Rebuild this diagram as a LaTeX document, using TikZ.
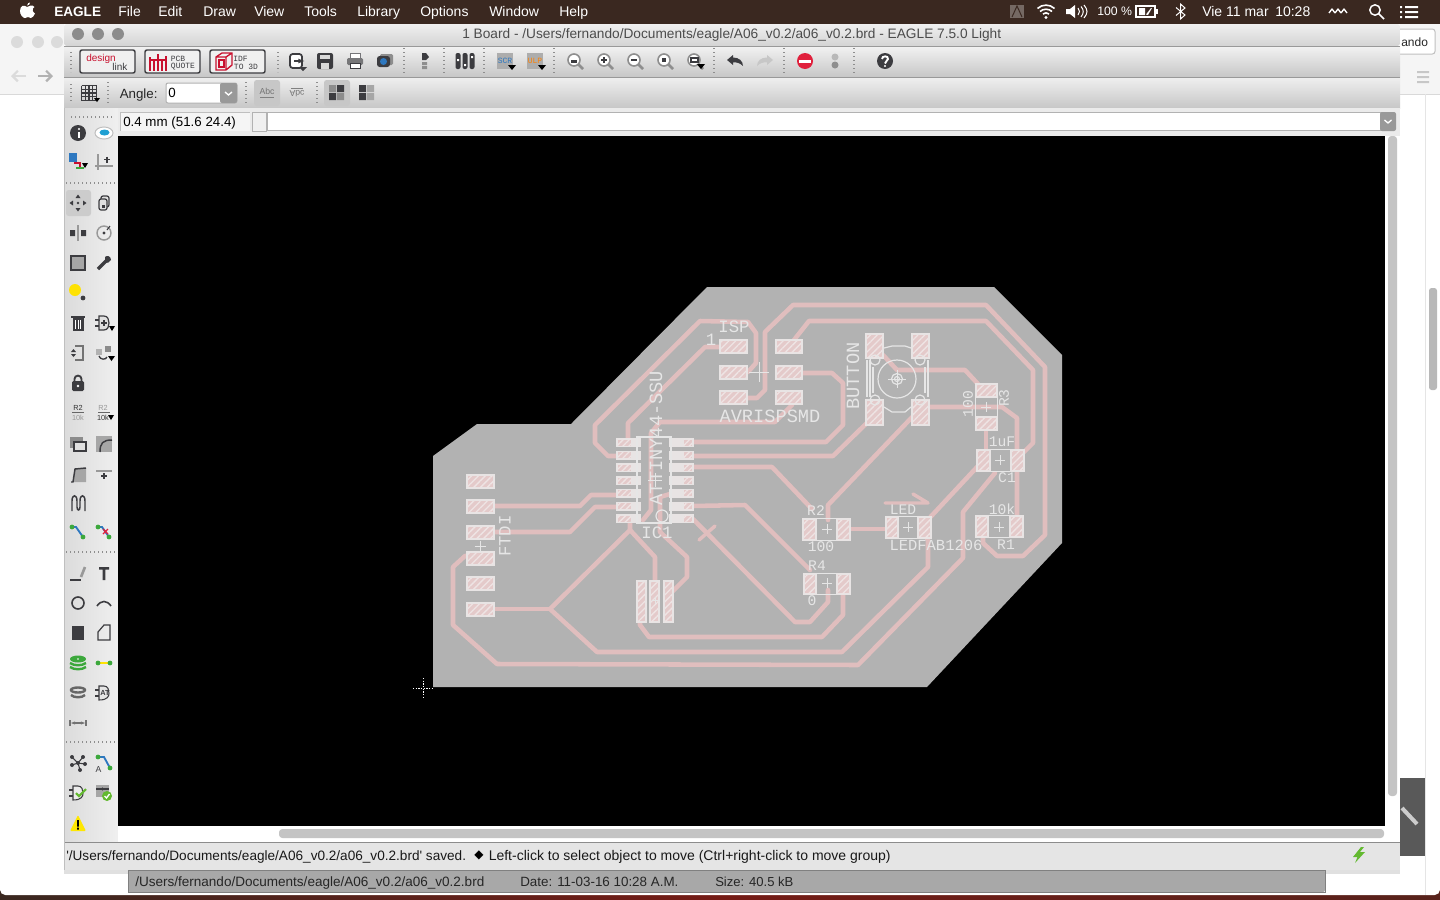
\documentclass[tikz,border=0pt]{standalone}
\usepackage{fontspec}
\usetikzlibrary{patterns.meta,arrows.meta}
\newfontfamily\ui{Liberation Sans}
\newfontfamily\pcbf{Liberation Mono}
\newfontfamily\symf{DejaVu Sans}
\newcommand\szz[1]{\fontsize{#1}{#1}\selectfont}
\definecolor{barc}{HTML}{3A2820}
\definecolor{trace}{HTML}{E0BEBE}
\definecolor{board}{HTML}{B2B2B2}
\definecolor{padc}{HTML}{E8E4E4}
\definecolor{hatcha}{HTML}{E4CACA}
\definecolor{hatchb}{HTML}{EEE4E4}
\definecolor{silk}{HTML}{E6E6E6}
\definecolor{tool}{HTML}{3C3C40}
\definecolor{midg}{HTML}{8E8E8E}
\definecolor{lineg}{HTML}{A4A4A4}
\definecolor{stopr}{HTML}{E0203C}
\definecolor{grn}{HTML}{3CA83C}
\definecolor{bluei}{HTML}{2E78C0}
\definecolor{cadm}{HTML}{C8102E}
\tikzset{
  trk/.style={draw=trace,line width=3.4pt,line join=round,line cap=round},
  sk/.style={draw=silk,line width=.9pt},
  mk/.style={draw=silk,line width=.7pt},
  lb/.style={text=silk,inner sep=0pt,font=\pcbf\szz{#1}},
  ut/.style={inner sep=0pt,anchor=base west,font=\ui\szz{#1}},
  ics/.style={fill=tool,draw=none},
  dots/.style={draw=midg,line width=.9pt,dash pattern=on .9pt off 2.1pt},
  tb/.style={draw=tool,line width=1.1pt,rounded corners=1.5pt,fill=gray!12},
  ol/.style={draw=tool,line width=1.3pt},
}
\newcommand\padbox[4]{%
  \fill[padc] (#1,#2) rectangle (#3,#4);
  \fill[hatcha] (#1+2,#2+2) rectangle (#3-2,#4-2);
  \fill[pattern={Lines[angle=45,distance=3.6pt,line width=1pt]},pattern color=hatchb] (#1+2,#2+2) rectangle (#3-2,#4-2);}
\newcommand\icpad[5]{% x1 y x2 hx1 hx2
  \fill[padc] (#1,#2-4.5) rectangle (#3,#2+4.5);
  \fill[hatcha] (#4,#2-3) rectangle (#5,#2+3);
  \fill[pattern={Lines[angle=45,distance=3.2pt,line width=1pt]},pattern color=hatchb] (#4,#2-3) rectangle (#5,#2+3);}
\newcommand\ic[3]{\begin{scope}[shift={(#1,#2)}]#3\end{scope}}
\newcommand\plus[3]{\draw[mk] (#1-#3,#2) -- (#1+#3,#2) (#1,#2-#3) -- (#1,#2+#3);}
\begin{document}
\begin{tikzpicture}[x=0.75pt,y=-0.75pt]
\useasboundingbox (0,0) rectangle (1440,900);
\clip (0,0) rectangle (1440,900);
% desktop
\fill[barc] (0,0) rectangle (1440,900);
\fill[left color=barc,right color=barc!85!red,middle color=red!30!barc] (0,890) rectangle (1440,900);
% background browser window
\fill[white,rounded corners=4pt] (0,24) rectangle (1440,895);
\fill[white!96!black] (0,24) rectangle (64,94);
\draw[black!15,line width=.75pt] (0,94) -- (64,94);
\foreach \xx/\nm in {17/a,38/b,57/c}{\fill[black!14] (\xx,42) circle (6);}
\draw[black!14,line width=1.6pt,-{Straight Barb[length=4pt]}] (26,76) -- (11,76);
\draw[black!30,line width=1.6pt,-{Straight Barb[length=4pt]}] (38,76) -- (53,76);
\fill[white!96!black] (1400,24) rectangle (1440,94);
\draw[black!15,line width=.75pt] (1400,94) -- (1440,94);
\draw[black!25,fill=white,rounded corners=2pt,line width=.75pt] (1396,29) rectangle (1435,54);
\node[ut=9,text=black!85] (andotxt) at (1401,46) {ando};
\fill[black!22] (1417,71) rectangle (1429,73) (1417,76) rectangle (1429,78) (1417,81) rectangle (1429,83);
\draw[black!10,line width=.75pt] (1425,94) -- (1425,895);
\fill[black!28,rounded corners=2pt] (1429,288) rectangle (1437,390);
\fill[black!65] (1400,778) rectangle (1425,856);
\draw[white!80!black,line width=3pt] (1402,808) -- (1417,824);
% shadow + main window
\fill[black!12] (64,870) rectangle (1400,874);
\shade[top color=black!6,bottom color=black!17,rounded corners=2pt] (64,24) rectangle (1400,46);
\shade[top color=black!5,bottom color=black!22] (64,46) rectangle (1400,77);
\shade[top color=black!6,bottom color=black!22] (64,77) rectangle (1400,108);
\draw[black!40,line width=.75pt] (64,46) -- (1400,46) (64,77) -- (1400,77) (64,108) -- (1400,108);
\fill[black!8] (64,108) rectangle (1400,136);
\shade[left color=black!14,right color=black!6] (64,108) rectangle (118,842);
\fill[black!10] (64,842) rectangle (1400,870);
\draw[black!45,line width=.75pt] (64,842) -- (1400,842);
\draw[black!25,line width=.75pt] (64,108) -- (64,870);
\foreach \xx in {78,98,118}{\fill[black!45] (\xx,34) circle (6);}
\node[ut=10.27,text=black!70] (titletxt) at (462,38.6) {1 Board - /Users/fernando/Documents/eagle/A06\_v0.2/a06\_v0.2.brd - EAGLE 7.5.0 Light};
% menu bar
\fill[barc] (0,0) rectangle (1440,22);
\begin{scope}[white]
\fill (27,7) .. controls (24,4.5) and (20,5.5) .. (20,11) .. controls (20,15) and (23,18) .. (25,18) .. controls (26,18) and (27,17) .. (28,17) .. controls (29,17) and (30,18) .. (31,18) .. controls (33,18) and (34,15) .. (35,13.5) .. controls (32,12) and (32,8) .. (34.5,7) .. controls (32.5,4.5) and (29,5.5) .. (27,7);
\fill (27,5.5) .. controls (27,3.5) and (29,2.5) .. (30,2.5) .. controls (30.5,4) and (28.5,5.5) .. (27,5.5);
\end{scope}
\node[ut=10.5,text=white,font=\ui\bfseries\szz{10.2}] (m0) at (54,16) {EAGLE};
\foreach \xx/\lab/\nn in {118/File/m1,158/Edit/m2,203/Draw/m3,254/View/m4,304/Tools/m5,357/Library/m6,420/Options/m7,489/Window/m8,559/Help/m9}{
  \node[ut=10.5,text=white] (\nn) at (\xx,16) {\lab};}
\fill[white!30!barc] (1010,5) rectangle (1024,18);
\draw[barc,line width=.75pt] (1012,17) -- (1017,6) -- (1022,17);
\begin{scope}[white,line width=1.2pt]
\draw (1037.5,8.5) .. controls (1042,4) and (1050,4) .. (1054.5,8.5);
\draw (1040,11.5) .. controls (1043,8.5) and (1049,8.5) .. (1052,11.5);
\draw (1043,14) .. controls (1045,12.5) and (1047,12.5) .. (1049,14);
\fill (1046,17.5) circle (1.6);
\fill (1066,9) rectangle (1070,14) (1070,9) -- (1075,5) -- (1075,18) -- (1070,14) -- cycle;
\draw[line width=.75pt] (1078,8) .. controls (1080,10) and (1080,13) .. (1078,15) (1081,6.5) .. controls (1084,10) and (1084,13) .. (1081,17) (1084,5) .. controls (1088,10) and (1088,13) .. (1084,18);
\end{scope}
\node[ut=9.2,text=white] (batt) at (1097,15.5) {100 \%};
\draw[white,line width=.9pt] (1136,6) rectangle (1155,17);
\fill[white] (1156,9) rectangle (1158,14);
\fill[white] (1139,8) rectangle (1145,15) (1146,14.5) -- (1151,8) -- (1152,8) -- (1148,15) -- cycle;
\draw[white,line width=.75pt] (1176,7.5) -- (1185,15) -- (1180.5,19) -- (1180.5,4) -- (1185,8) -- (1176,15.5);
\node[ut=10.5,text=white] (clk1) at (1202,16) {Vie 11 mar};
\node[ut=10.5,text=white] (clk2) at (1275,16) {10:28};
\draw[white,line width=1pt,line join=round] (1329,13) -- (1332,9) -- (1335,13) (1335,13) -- (1338,9) -- (1341,13) (1341,13) -- (1344,9) -- (1347,13);
\draw[white,line width=1.1pt] (1375,10) circle (5.2) (1379,14) -- (1384,19);
\fill[white] (1400,6) rectangle (1402,8) (1400,11) rectangle (1402,13) (1400,16) rectangle (1402,18) (1405,6) rectangle (1418,8) (1405,11) rectangle (1418,13) (1405,16) rectangle (1418,18);
% toolbar 1
\foreach \xx in {71,278}{\draw[dots] (\xx,52) -- (\xx,72);}
\draw[dots] (71,84) -- (71,102) (278,52) -- (278,72);
\foreach \xx in {404,444,484,554,714,784,854}{\draw[dots] (\xx,48) -- (\xx,74);}
\draw[tb] (80,50) rectangle (135,73);
\node[inner sep=0pt,text=cadm,font=\ui\szz{7.5}] (dl1) at (101,59) {design};
\node[inner sep=0pt,text=tool,font=\ui\szz{7.5}] (dl2) at (120,67) {link};
\draw[tb] (145,50) rectangle (200,73);
\begin{scope}[cadm,line width=1pt]
\draw (150,57) -- (150,71) (154,61) -- (154,71) (158,54) -- (158,71) (162,60) -- (162,71) (166,56) -- (166,71);
\draw (150,60) -- (158,60) (158,60) -- (166,60);
\end{scope}
\node[inner sep=0pt,text=tool,font=\pcbf\szz{6}] (pq1) at (178,59) {PCB};
\node[inner sep=0pt,text=tool,font=\pcbf\szz{6}] (pq2) at (183,66.5) {QUOTE};
\draw[tb] (210,50) rectangle (265,73);
\draw[cadm,line width=1pt] (216,57) -- (222,53) -- (232,53) -- (232,65) -- (226,70) -- (216,70) -- cycle (216,57) -- (226,57) -- (226,70) (226,57) -- (232,53);
\draw[cadm,line width=.8pt] (219,60) rectangle (224,67);
\node[inner sep=0pt,text=tool,font=\pcbf\szz{6}] (id1) at (240.5,59) {IDF};
\node[inner sep=0pt,text=tool,font=\pcbf\szz{6}] (id2) at (246,66.5) {TO 3D};
% toolbar icons
\ic{297}{61}{\draw[ol,fill=white,rounded corners=2pt] (-7,-7) rectangle (5,7);\draw[tool,line width=1.5pt,-{Latex[length=5pt]}] (-3,0) -- (8,0);\fill[tool] (2,6) -- (10,6) -- (6,10) -- cycle;}
\ic{325}{61}{\fill[tool,rounded corners=1.5pt] (-8,-8) rectangle (8,8);\fill[white!85!black] (-5,-6) rectangle (5,-2);\fill[white!85!black] (-4,2) rectangle (4,8);}
\ic{355}{61}{\fill[tool!70,rounded corners=1pt] (-8,-3) rectangle (8,4);\fill[white,draw=tool!70,line width=.75pt] (-5,-8) rectangle (5,-3);\fill[white,draw=tool,line width=.75pt] (-5,2) rectangle (5,7);}
\ic{385}{61}{\fill[midg,rounded corners=1pt] (-5,-7) rectangle (8,4);\fill[tool,rounded corners=2pt] (-8,-5) rectangle (5,6);\fill[bluei] (-1.5,.5) circle (3.5);}
\ic{425}{61}{\fill[tool] (-3,-8) -- (1,-8) -- (4,-4) -- (1,-1) -- (-3,-1) -- cycle;\fill[midg] (-3,1) rectangle (2,4) (-3,5) rectangle (2,8);}
\ic{465}{61}{\foreach \dx in {-7,0,7}{\fill[tool,rounded corners=1.5pt] (\dx-2.5,-8) rectangle (\dx+2.5,8);}\fill[white] (-8,-2) rectangle (-6,0) (-1,3) rectangle (1,5) (6,-5) rectangle (8,-3);}
\ic{505}{61}{\fill[black!32] (-8,-8) rectangle (8,8);\node[inner sep=0pt,text=bluei,font=\pcbf\szz{6}] (scr) at (0,0) {SCR};\fill[black] (3,4) -- (11,4) -- (7,9) -- cycle;}
\ic{535}{61}{\fill[black!32] (-8,-8) rectangle (8,8);\node[inner sep=0pt,text=orange,font=\pcbf\szz{6}] (ulp) at (0,0) {ULP};\fill[black] (3,4) -- (11,4) -- (7,9) -- cycle;}
\foreach \xx/\kk in {575/0,605/1,635/2,665/3,695/4}{
  \ic{\xx}{61}{\draw[midg,line width=2pt] (3,3) -- (8,8);\draw[midg,fill=white,line width=1.2pt] (-1,-1) circle (6);}}
\fill[tool] (571,-1+61) rectangle (577,2+61);
\draw[tool,line width=1pt] (601,60) -- (607,60) (604,57) -- (604,63);
\draw[tool,line width=1pt] (631,60) -- (637,60);
\fill[tool] (662,58) rectangle (666,62);
\draw[tool,line width=.8pt] (691,58) rectangle (698,62);
\fill[black] (697,64) -- (705,64) -- (701,69) -- cycle;
\ic{735}{61}{\fill[tool] (-8,-1) -- (-2,-6) -- (-2,-3.5) .. controls (4,-3.5) and (8,0) .. (8,5) .. controls (5,2) and (2,1) .. (-2,1.5) -- (-2,4) -- cycle;}
\ic{765}{61}{\fill[black!22] (8,-1) -- (2,-6) -- (2,-3.5) .. controls (-4,-3.5) and (-8,0) .. (-8,5) .. controls (-5,2) and (-2,1) .. (2,1.5) -- (2,4) -- cycle;}
\fill[stopr] (805,61) circle (8);
\fill[white] (799,60) rectangle (811,62.5);
\fill[black!28] (835,57) circle (3.5);
\fill[midg] (835,65) circle (3.5);
\fill[tool] (885,61) circle (8);
\draw[white,line width=1.4pt] (882,59) .. controls (882,55.5) and (888.5,55.5) .. (888,59) .. controls (888,61) and (885,61) .. (885,63.5);
\fill[white] (885,66) circle (1.1);
% toolbar 2
\draw[dots] (108,82) -- (108,104) (246,82) -- (246,104) (317,82) -- (317,104);
\ic{89}{93}{\foreach \gg in {-7.5,-3.75,0,3.75,7.5}{\draw[tool,line width=.85pt] (\gg,-7.5) -- (\gg,7.5) (-7.5,\gg) -- (7.5,\gg);}\fill[black] (5,5) -- (11,5) -- (8,9) -- cycle;}
\node[ut=10,text=black!85] (angl) at (119.5,98) {Angle:};
\draw[black!30,fill=white,rounded corners=1.5pt,line width=.75pt] (166,83) rectangle (237,103);
\fill[black!40,rounded corners=1.5pt] (220,83) rectangle (237,103);
\draw[white,line width=1pt] (225,92) -- (228.5,95) -- (232,92);
\node[ut=10,text=black] (angv) at (168,97.5) {0};
\fill[black!22,rounded corners=2pt] (254,80) rectangle (280,106);
\node[inner sep=0pt,text=black!55,font=\ui\szz{6.5}] (abc1) at (267,91) {Abc};
\draw[black!50,line width=.75pt] (260,97) -- (274,97);
\draw[black!50,line width=.75pt] (291,88) -- (303,88);
\node[inner sep=0pt,text=black!55,rotate=180,xscale=-1,font=\ui\szz{6.5}] (abc2) at (297,94) {Abc};
\fill[black!22,rounded corners=2pt] (324,80) rectangle (350,106);
\fill[black!45] (329,85) rectangle (336,92) (337,93) rectangle (344,100);
\fill[tool] (337,85) rectangle (344,92) (329,93) rectangle (336,100);
\fill[tool] (359,85) rectangle (366,92) (359,93) rectangle (366,100);
\fill[black!35] (367,85) rectangle (374,92) (367,93) rectangle (374,100);
% command row
\fill[black!4] (120,112) rectangle (250,131);
\draw[black!25,line width=.75pt] (120,112) -- (120,131) (120,112) -- (250,112);
\node[ut=10,text=black] (coord) at (123,126) {0.4 mm (51.6 24.4)};
\fill[black!6,draw=black!30,line width=.75pt] (252,112) rectangle (266,131);
\fill[white,draw=black!30,line width=.75pt] (267,112) rectangle (1382,130);
\fill[black!40,rounded corners=1.5pt] (1380,112) rectangle (1396,131);
\draw[white,line width=1pt] (1384.5,120) -- (1388,123) -- (1391.5,120);
% canvas
\fill[black] (118,136) rectangle (1385,826);
\fill[white] (118,826) rectangle (1400,842);
\fill[white] (1385,136) rectangle (1400,842);
\fill[black!23,rounded corners=2.5pt] (279,829) rectangle (1384,838);
\fill[black!23,rounded corners=2.5pt] (1388,136) rectangle (1397,796);
% status bar
\node[ut=10.2,text=black!90] (st1) at (66,860) {'/Users/fernando/Documents/eagle/A06\_v0.2/a06\_v0.2.brd' saved.};
\node[inner sep=0pt,text=black,font=\symf\szz{9}] (st2) at (479,855) {◆};
\node[ut=10.5,text=black!90] (st3) at (488.5,860) {Left-click to select object to move (Ctrl+right-click to move group)};
\fill[grn!80!yellow] (1361,847) -- (1353,857) -- (1357.5,857) -- (1355,863) -- (1365,852) -- (1360,852) -- (1364,847) -- cycle;
% lower strip
\fill[black!34,rounded corners=1.5pt] (128,870) rectangle (1325,892);
\draw[black!50,line width=.75pt] (128,870) rectangle (1325,892);
\node[ut=10.15,text=black!85] (b1) at (135,886) {/Users/fernando/Documents/eagle/A06\_v0.2/a06\_v0.2.brd};
\node[ut=10.05,text=black!85] (b2) at (520,886) {Date: 11-03-16 10:28 A.M.};
\node[ut=9.8,text=black!85] (b3) at (715,886) {Size: 40.5 kB};
% left toolbar
\draw[dots] (71,117) -- (112,117) (66,183) -- (117,183) (66,552) -- (117,552) (66,742) -- (117,742);
\ic{78}{133}{\fill[tool] (0,0) circle (8);\draw[white,line width=1.4pt] (1,-1) -- (1,5);\fill[white] (1,-4) circle (1.1);}
\ic{104}{133}{\fill[white,draw=black!25,line width=.75pt] (0,0) ellipse (9 and 6);\fill[bluei!70!cyan] (.5,-.5) ellipse (5 and 3);}
\ic{78}{162}{\fill[bluei] (-9,-9) rectangle (-1,0);\draw[cadm,line width=1.3pt] (-4,1) -- (2,1) -- (2,6);\draw[grn,line width=1.5pt] (-2,6) -- (6,6);\fill[black] (4,1) -- (10,1) -- (7,6) -- cycle;}
\ic{104}{162}{\draw[black!40,line width=1.2pt] (-6,-8) -- (-6,8) (-9,4) -- (9,4);\draw[tool,line width=1pt] (0,-2.5) -- (6,-2.5) (3,-5.5) -- (3,.5);}
\fill[black!20,rounded corners=2pt] (66,190) rectangle (91,216);
\ic{78}{203}{\fill[tool] (-2.5,-5) -- (2.5,-5) -- (0,-8.5) -- cycle (-2.5,5) -- (2.5,5) -- (0,8.5) -- cycle (-5,-2.5) -- (-5,2.5) -- (-8.5,0) -- cycle (5,-2.5) -- (5,2.5) -- (8.5,0) -- cycle;\fill[tool] (0,0) circle (1.3);}
\ic{104}{203}{\draw[draw=tool,line width=.9pt,fill=black!12,rounded corners=1.5pt] (-3,-7) rectangle (5,4);\draw[draw=tool,line width=.9pt,fill=black!12,rounded corners=1.5pt] (-5,-4) rectangle (3,7);\fill[tool] (-2.5,2) rectangle (.5,5);}
\ic{78}{233}{\draw[black!40,line width=1.2pt] (0,-8) -- (0,8);\fill[tool] (-8,-3) -- (-3,-3) -- (-3,3) -- (-8,3) -- cycle (8,-3) -- (3,-3) -- (3,3) -- (8,3) -- cycle;}
\ic{104}{233}{\draw[black!40,line width=1.1pt] (0,0) circle (7);\fill[tool] (0,0) circle (1.7);\draw[tool,line width=.8pt] (3,-3) -- (6,-7);}
\draw[tool,line width=1.5pt,fill=black!35] (71,256) rectangle (85,270);
\ic{104}{263}{\draw[tool,line width=2.6pt] (-6,6) -- (2,-2);\fill[tool] (1,-6) .. controls (3,-8) and (7,-7) .. (7,-3) .. controls (6,-1) and (3,1) .. (1,-1) -- cycle;}
\fill[yellow!85!orange] (75,290) circle (6);
\fill[tool] (83,298) circle (2.4);
\ic{78}{323}{\fill[tool] (-5.5,-5) rectangle (5.5,8);\fill[tool] (-7,-7) rectangle (7,-5);\draw[white,line width=.7pt] (-2.5,-3) -- (-2.5,6) (0,-3) -- (0,6) (2.5,-3) -- (2.5,6);}
\ic{104}{323}{\draw[tool,line width=.9pt,fill=black!12] (-5,-7) -- (0,-7) .. controls (4,-7) and (5,-3) .. (5,0) .. controls (5,3) and (4,7) .. (0,7) -- (-5,7) -- cycle;\draw[tool,line width=.9pt] (-9,-3) -- (-5,-3) (-9,3) -- (-5,3) (-3,0) -- (3,0) (0,-3) -- (0,3);\fill[black] (5,3) -- (11,3) -- (8,8) -- cycle;}
\ic{78}{353}{\draw[black!55,line width=1.3pt] (-3,-7) -- (5,-7) -- (5,7) -- (-3,7);\fill[tool] (-7,-1) -- (-2,-1) -- (-4.5,-4) -- cycle (-7,1) -- (-2,1) -- (-4.5,4) -- cycle;}
\ic{104}{353}{\fill[black!30] (-8,-4) rectangle (-2,2);\fill[black!45] (1,-7) rectangle (7,-1);\draw[tool,line width=1pt] (-5,3) .. controls (-4,7) and (2,7) .. (3,4);\fill[black] (4,3) -- (11,3) -- (7.5,8) -- cycle;}
\ic{78}{383}{\fill[tool,rounded corners=1pt] (-6,-2) rectangle (6,8);\draw[tool,line width=1.4pt] (-3.5,-2) -- (-3.5,-4) .. controls (-3.5,-8.5) and (3.5,-8.5) .. (3.5,-4) -- (3.5,-2);\fill[white] (0,3) circle (1.4);}
\node[inner sep=0pt,text=black!80,font=\ui\szz{5.5}] (r2a) at (78,407.5) {R2};
\draw[black!60,line width=.7pt] (72,412) -- (84,412);
\node[inner sep=0pt,text=black!40,font=\ui\szz{5.5}] (k10a) at (78,417.5) {10k};
\node[inner sep=0pt,text=black!40,font=\ui\szz{5.5}] (r2b) at (103,407.5) {R2};
\draw[black!60,line width=.7pt] (98,412) -- (110,412);
\node[inner sep=0pt,text=black!80,font=\ui\szz{5.5}] (k10b) at (103,417.5) {10k};
\fill[black] (108,415) -- (114,415) -- (111,420) -- cycle;
\ic{78}{444}{\fill[black!45] (-8,-7) rectangle (5,4);\fill[black!12,draw=tool,line width=.9pt] (-4,-2) rectangle (8,7);}
\ic{104}{444}{\fill[black!35] (-8,-8) rectangle (8,8);\draw[tool,line width=1.1pt] (-4,8) .. controls (-4,-1) and (-1,-4) .. (8,-4);}
\ic{78}{474}{\fill[black!35] (-5,8) -- (-3,-5) -- (8,-6) -- (8,8) -- cycle;\draw[tool,line width=1.1pt] (-7,8) -- (-5,8) -- (-3,-5) -- (8,-6);}
\ic{104}{474}{\draw[black!40,line width=.9pt] (-8,-3) -- (8,-3);\draw[tool,line width=1pt] (-3,2) -- (3,2) (0,-1) -- (0,5);}
\draw[tool,line width=1.1pt] (72,511) -- (72,501) .. controls (72,494) and (77,494) .. (77,501) -- (77,507) .. controls (77,511) and (80,511) .. (80,507) -- (80,501) .. controls (80,494) and (85,494) .. (85,501) -- (85,511);
\draw[bluei,line width=1.4pt] (72,527) -- (76,527) -- (83,537);
\fill[grn] (72,527) circle (2.4) (83,537) circle (2.4);
\draw[bluei,line width=1.4pt] (98,527) -- (102,527) -- (109,537);
\fill[grn] (98,527) circle (2.4) (109,537) circle (2.4);
\draw[stopr,line width=1pt] (103,529) -- (108,534) (108,529) -- (103,534);
\draw[tool,line width=1pt] (70,580) -- (81,580);
\draw[black!40,line width=2pt] (81,577) -- (85,567);
\fill[tool] (99,567) rectangle (109,569.5) (102.7,567) rectangle (105.3,580);
\draw[tool,line width=1.2pt] (78,603) circle (6);
\draw[tool,line width=1.2pt] (97,606) .. controls (101,600) and (107,600) .. (111,606);
\fill[tool] (72,626) rectangle (84,640);
\draw[tool,line width=.9pt] (98,640) -- (98,632) -- (104,625) -- (110,625) -- (110,640) -- cycle;
\ic{78}{663}{\fill[grn] (0,-4) ellipse (8 and 3.5);\fill[white] (0,-4) circle (.8);\draw[grn,line width=1.8pt] (-8,0) .. controls (-4,3) and (4,3) .. (8,0);\draw[grn,line width=1.8pt] (-8,4) .. controls (-4,7) and (4,7) .. (8,4);}
\draw[yellow!85!orange,line width=1.5pt] (98,663) -- (110,663);
\fill[grn] (98,663) circle (2.4) (110,663) circle (2.4);
\ic{78}{693}{\draw[black!60,line width=1.8pt] (0,-3) ellipse (7 and 2.5);\draw[black!60,line width=1.8pt] (-7,2) .. controls (-4,5) and (4,5) .. (7,2);}
\ic{104}{693}{\draw[tool,line width=.8pt,fill=black!10] (-5,-7) -- (0,-7) .. controls (4,-7) and (5,-3) .. (5,0) .. controls (5,3) and (4,7) .. (-5,7) -- cycle;\draw[tool,line width=.8pt] (-9,-3) -- (-5,-3) (-9,3) -- (-5,3);\node[inner sep=0pt,text=tool,font=\ui\bfseries\szz{5.5}] (att) at (1,0) {AT};}
\draw[black!55,line width=.9pt,{Stealth[length=3pt]}-{Stealth[length=3pt]}] (71,723) -- (85,723);
\draw[black!55,line width=.8pt] (70,720) -- (70,726) (86,720) -- (86,726);
\ic{78}{763}{\draw[tool,line width=.8pt] (0,0) -- (-6,-6) (0,0) -- (5,-6) (0,0) -- (-6,2) (0,0) -- (7,1) (0,0) -- (2,7);\fill[tool] (0,0) circle (2) (-6,-6) circle (2) (5,-6) circle (2) (-6,2) circle (2) (7,1) circle (2) (2,7) circle (2);}
\draw[bluei,line width=1.4pt] (98,757) -- (104,757) -- (110,768);
\fill[grn] (98,757) circle (2.4) (110,768) circle (2.4);
\node[inner sep=0pt,text=tool,font=\ui\szz{6.5}] (aa) at (98.5,770) {A};
\ic{78}{793}{\draw[tool,line width=.8pt,fill=black!8] (-5,-7) -- (0,-7) .. controls (4,-7) and (5,-3) .. (5,0) .. controls (5,3) and (4,7) .. (-5,7) -- cycle;\draw[tool,line width=.8pt] (-9,-3) -- (-5,-3) (-9,3) -- (-5,3);\draw[grn!80!yellow,line width=1.6pt] (-2,0) -- (1,3) -- (8,-4);}
\ic{104}{793}{\fill[black!35] (-8,-8) rectangle (5,4);\draw[tool,line width=.8pt] (-8,-4) -- (5,-4);\fill[tool] (-1.5,-4) circle (1.6);\fill[grn!80!yellow] (3,3) circle (5);\draw[white,line width=1pt] (.5,3) -- (2.5,5) -- (5.5,1);}
\fill[yellow!90!orange,rounded corners=.8pt] (78,815) -- (86,831) -- (70,831) -- cycle;
\fill[black] (77.2,820) rectangle (78.8,826.5) (77.2,827.7) rectangle (78.8,829.5);
% ---------- board ----------
\fill[board] (433,687) -- (433,456) -- (477,424) -- (571,424) -- (707,287) -- (994,287) -- (1062,355) -- (1062,543) -- (927,687) -- cycle;
% traces
\draw[trk] (748,372) -- (756,363) -- (756,333) -- (748,322) -- (700,321) -- (595,425) -- (595,443) -- (608,456) -- (618,456);
\draw[trk] (722,347) -- (705,347) -- (628,423) -- (628,442);
\draw[trk] (747,398) -- (757,398) -- (765,390) -- (765,332) -- (793,305) -- (986,305) -- (1045,367) -- (1045,535) -- (1023,556) -- (997,556) -- (983,543) -- (983,535);
\draw[trk] (790,345) -- (809,321) -- (986,321) -- (1033,370) -- (1033,443) -- (1013,463);
\draw[trk] (693,442) -- (826,442) -- (843,425) -- (843,383) -- (832,373) -- (790,373);
\draw[trk] (693,456) -- (833,456) -- (873,417);
\draw[trk] (693,467) -- (772,467) -- (812,509);
\draw[trk] (917,412) -- (828,505) -- (828,520);
\draw[trk] (828,590) -- (828,602) -- (810,622) -- (795,622) -- (693,519);
\draw[trk] (693,506) -- (745,505) -- (810,570);
\draw[trk] (643,520) -- (651,510) -- (651,433) -- (660,422) -- (775,422) -- (792,405);
\draw[trk] (883,355) -- (897,370) -- (965,370) -- (978,384);
\draw[trk] (925,407) -- (1002,407) -- (1017,418) -- (1017,525);
\draw[trk] (986,428) -- (986,452);
\draw[trk] (923,525) -- (978,466);
\draw[trk] (995,473) -- (963,512) -- (963,558) -- (858,665) -- (497,664) -- (453,625) -- (453,567) -- (465,556) -- (478,556);
\draw[trk] (925,535) -- (928,540) -- (928,567) -- (842,652) -- (597,652) -- (550,609) -- (630,530) -- (630,522);
\draw[trk] (480,609) -- (550,609);
\draw[trk] (630,530) -- (655,557) -- (655,582);
\draw[trk] (670,494) -- (660,497) -- (660,532) -- (687,557) -- (687,577) -- (672,592);
\draw[trk] (640,620) -- (640,625) -- (649,637) -- (822,637) -- (843,615) -- (843,592);
\draw[trk] (480,506) -- (580,506) -- (591,495) -- (620,495);
\draw[trk] (480,532) -- (570,532) -- (595,507) -- (620,507);
\draw[trk] (850,529) -- (888,529);
\draw[trk,line width=2.6pt] (699,540) -- (715,526);
\draw[trk,line width=2.6pt] (885,503) -- (928,503) -- (913,494);
% pads: FTDI
\foreach \yy in {481.5,506.5,532.5,558,583.5,609.5}{\padbox{466}{\yy-7.5}{495}{\yy+7.5}}
% ISP
\foreach \yy in {346.5,372,397.5}{\padbox{719}{\yy-7.5}{748}{\yy+7.5}\padbox{775}{\yy-7.5}{803}{\yy+7.5}}
% IC
\foreach \yy in {442.5,455.2,467.9,480.6,493.3,506,518.7}{
  \icpad{616}{\yy}{641}{618}{631}
  \icpad{669}{\yy}{694}{684}{692}}
\draw[sk] (637,437) -- (671,437) -- (671,523) -- (637,523) -- cycle;
\draw[sk] (662,516) circle (6);
% header
\padbox{636}{580}{647}{623}\padbox{649}{580}{660}{623}\padbox{663}{580}{674}{623}
% discrete parts
\padbox{802}{518}{817}{541}\padbox{836}{518}{851}{541}\draw[sk] (817,518.5) -- (836,518.5) (817,540.5) -- (836,540.5);
\padbox{803}{573}{817}{595}\padbox{836}{573}{851}{595}\draw[sk] (817,573.5) -- (836,573.5) (817,594.5) -- (836,594.5);
\padbox{885}{516}{899}{539}\padbox{917}{516}{932}{539}\draw[sk] (899,516.5) -- (917,516.5) (899,538.5) -- (917,538.5);
\padbox{975}{515}{989}{538}\padbox{1009}{515}{1024}{538}\draw[sk] (989,515.5) -- (1009,515.5) (989,537.5) -- (1009,537.5);
\padbox{976}{449}{991}{472}\padbox{1010}{449}{1025}{472}\draw[sk] (991,449.5) -- (1010,449.5) (991,471.5) -- (1010,471.5);
\padbox{975}{383}{998}{398}\padbox{975}{416}{998}{431}\draw[sk] (975.5,398) -- (975.5,416) (997.5,398) -- (997.5,416);
% button
\padbox{865}{333}{884}{359}\padbox{911}{333}{930}{359}\padbox{865}{399}{884}{426}\padbox{911}{399}{930}{426}
\draw[sk] (884,348) -- (892,346) -- (905,346) -- (911,348) (884,407) -- (892,412) -- (905,412) -- (911,407);
\draw[sk] (867,360) -- (867,397) (873,367) -- (873,393) (870,360) -- (870,397) (925,367) -- (925,393) (928,360) -- (928,397);
\draw[sk] (897,379) circle (19) (897,379) circle (5.5) (897,379) circle (2.5);
\draw[sk] (875,360) circle (5) (920,360) circle (5) (875,400) circle (5) (920,400) circle (5);
\plus{897}{379}{9}
% crosses
\plus{759}{372}{10}\plus{986}{407}{5}\plus{1000}{460}{5}\plus{827}{529}{5}\plus{908}{527}{5}\plus{827}{583}{5}\plus{999}{527}{5}\plus{480}{546}{5.5}\plus{655}{480}{7}\plus{655}{600}{3.5}
% labels
\node[lb=13,anchor=center] (lisp) at (734,327) {ISP};
\node[lb=13,anchor=center] (lone) at (711,340) {1};
\node[lb=14,anchor=center] (lavr) at (770,416) {AVRISPSMD};
\node[lb=14,anchor=center,rotate=90] (lbtn) at (853,376) {BUTTON};
\node[lb=14,anchor=center,rotate=90] (lattiny) at (656,438) {ATTINY44-SSU};
\node[lb=13,anchor=center,rotate=90] (lftdi) at (505,536) {FTDI};
\node[lb=13,anchor=center] (lic) at (657,533) {IC1};
\node[lb=11,anchor=center,rotate=90] (l100a) at (968,404) {100};
\node[lb=11,anchor=center,rotate=90] (lr3) at (1004,398) {R3};
\node[lb=11,anchor=center] (l1uf) at (1002,442) {1uF};
\node[lb=11,anchor=center] (lc1) at (1007,478) {C1};
\node[lb=11,anchor=center] (lr2) at (816,511) {R2};
\node[lb=11,anchor=center] (l100b) at (821,547) {100};
\node[lb=11,anchor=center] (lr4) at (817,566) {R4};
\node[lb=11,anchor=center] (lzero) at (812,601) {0};
\node[lb=11,anchor=center] (lled) at (903,510) {LED};
\node[lb=11.6,anchor=center] (lfab) at (936,545) {LEDFAB1206};
\node[lb=11,anchor=center] (l10k) at (1002,509) {10k};
\node[lb=11,anchor=center] (lr1) at (1006,545) {R1};
% origin cursor
\draw[white,line width=.7pt,dash pattern=on 1pt off 1pt] (413,688) -- (433,688) (423,678) -- (423,698);
\end{tikzpicture}
\end{document}
